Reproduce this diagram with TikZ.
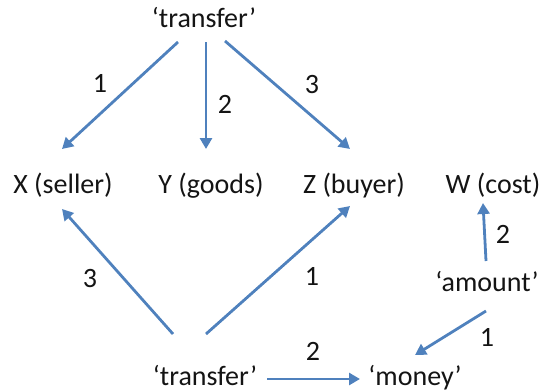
\documentclass[tikz,border=0pt]{standalone}
\usepackage{fontspec}
\setmainfont{Carlito}
\usetikzlibrary{arrows.meta}
\definecolor{arrblue}{RGB}{79,129,189}
\definecolor{txt}{RGB}{20,20,20}
\tikzset{
  word/.style={inner sep=0pt, anchor=base, text=txt, font=\fontsize{28}{33}\selectfont},
  num/.style={inner sep=0pt, anchor=center, text=txt, font=\fontsize{28}{33}\selectfont},
  arr/.style={draw=arrblue, line width=2.8pt, -{Triangle[length=11pt,width=12pt]}}
}
\begin{document}
\begin{tikzpicture}[x=1pt,y=-1pt]
\useasboundingbox (0,0) rectangle (543,391);
\node[word] (t1) at (204,27) {‘transfer’};
\node[word] (X) at (63,193) {X (seller)};
\node[word] (Y) at (211,193) {Y (goods)};
\node[word] (Z) at (354,193) {Z (buyer)};
\node[word] (W) at (493,193) {W (cost)};
\node[word] (am) at (487,291) {‘amount’};
\node[word] (t2) at (205,385) {‘transfer’};
\node[word] (mo) at (415,385) {‘money’};

\draw[arr] ([shift={(-26,15)}]t1.base) -- ([shift={(-1,-44)}]X.base);
\draw[arr] ([shift={(2,15)}]t1.base) -- ([shift={(-5,-44)}]Y.base);
\draw[arr] ([shift={(21,14)}]t1.base) -- ([shift={(-4,-44)}]Z.base);

\draw[arr] ([shift={(-32,-51)}]t2.base) -- ([shift={(-1,16)}]X.base);
\draw[arr] ([shift={(1,-51)}]t2.base) -- ([shift={(-4,13)}]Z.base);
\draw[arr] ([shift={(62,-6)}]t2.base) -- ([shift={(-55,-6)}]mo.base);

\draw[arr] ([shift={(-1,-30)}]am.base) -- ([shift={(-10,10)}]W.base);
\draw[arr] ([shift={(-1,20)}]am.base) -- ([shift={(0,-30)}]mo.base);

\node[num] (l1) at (100,83) {1};
\node[num] (l2) at (225,104) {2};
\node[num] (l3) at (312,85) {3};
\node[num] (l4) at (90,279) {3};
\node[num] (l5) at (312,276) {1};
\node[num] (l6) at (313,351) {2};
\node[num] (l7) at (503,234) {2};
\node[num] (l8) at (487,337) {1};
\end{tikzpicture}
\end{document}
